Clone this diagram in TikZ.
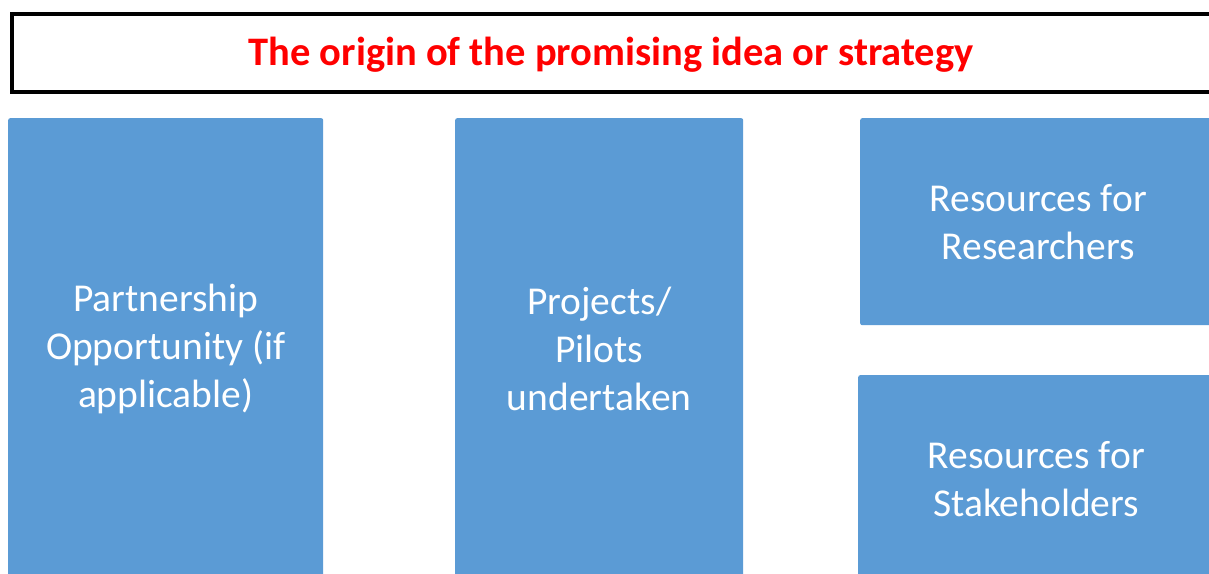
\documentclass[tikz,border=0pt]{standalone}
\usepackage{fontspec}
\setmainfont{Carlito}
\definecolor{boxblue}{HTML}{5B9BD5}
\definecolor{titlered}{HTML}{FF0000}
\tikzset{
  bluebox/.style={fill=boxblue, draw=none, rounded corners=2pt, inner sep=0pt, text=white,
    align=center, font=\fontsize{39.5}{48}\selectfont},
  titlebox/.style={draw=black, line width=4pt, fill=white, inner sep=0pt},
  titletext/.style={text=titlered, font=\bfseries\fontsize{40.5}{46}\selectfont, inner sep=0pt}
}
\begin{document}
\begin{tikzpicture}[x=1pt,y=1pt]
\useasboundingbox (0,0) rectangle (1209,573);
\clip (0,0) rectangle (1209,573);
% title
\node[titlebox, minimum width=1203pt, minimum height=78.5pt, anchor=north west] (title) at (10,561) {};
\node[titletext] (titlelbl) at (611,518) {The origin of the promising idea or strategy};
% boxes
\node[bluebox, minimum width=315pt, minimum height=462pt, anchor=north west] (partner) at (8,455)
  {Partnership\\Opportunity (if\\applicable)};
\node[bluebox, minimum width=288pt, minimum height=462pt, anchor=north west] (projects) at (455,455)
  {Projects/\\Pilots\\undertaken};
\node[bluebox, minimum width=356pt, minimum height=207pt, anchor=north west] (researchers) at (860,455)
  {Resources for\\Researchers};
\node[bluebox, minimum width=356pt, minimum height=208pt, anchor=north west] (stakeholders) at (858,198)
  {Resources for\\Stakeholders};
\end{tikzpicture}
\end{document}
